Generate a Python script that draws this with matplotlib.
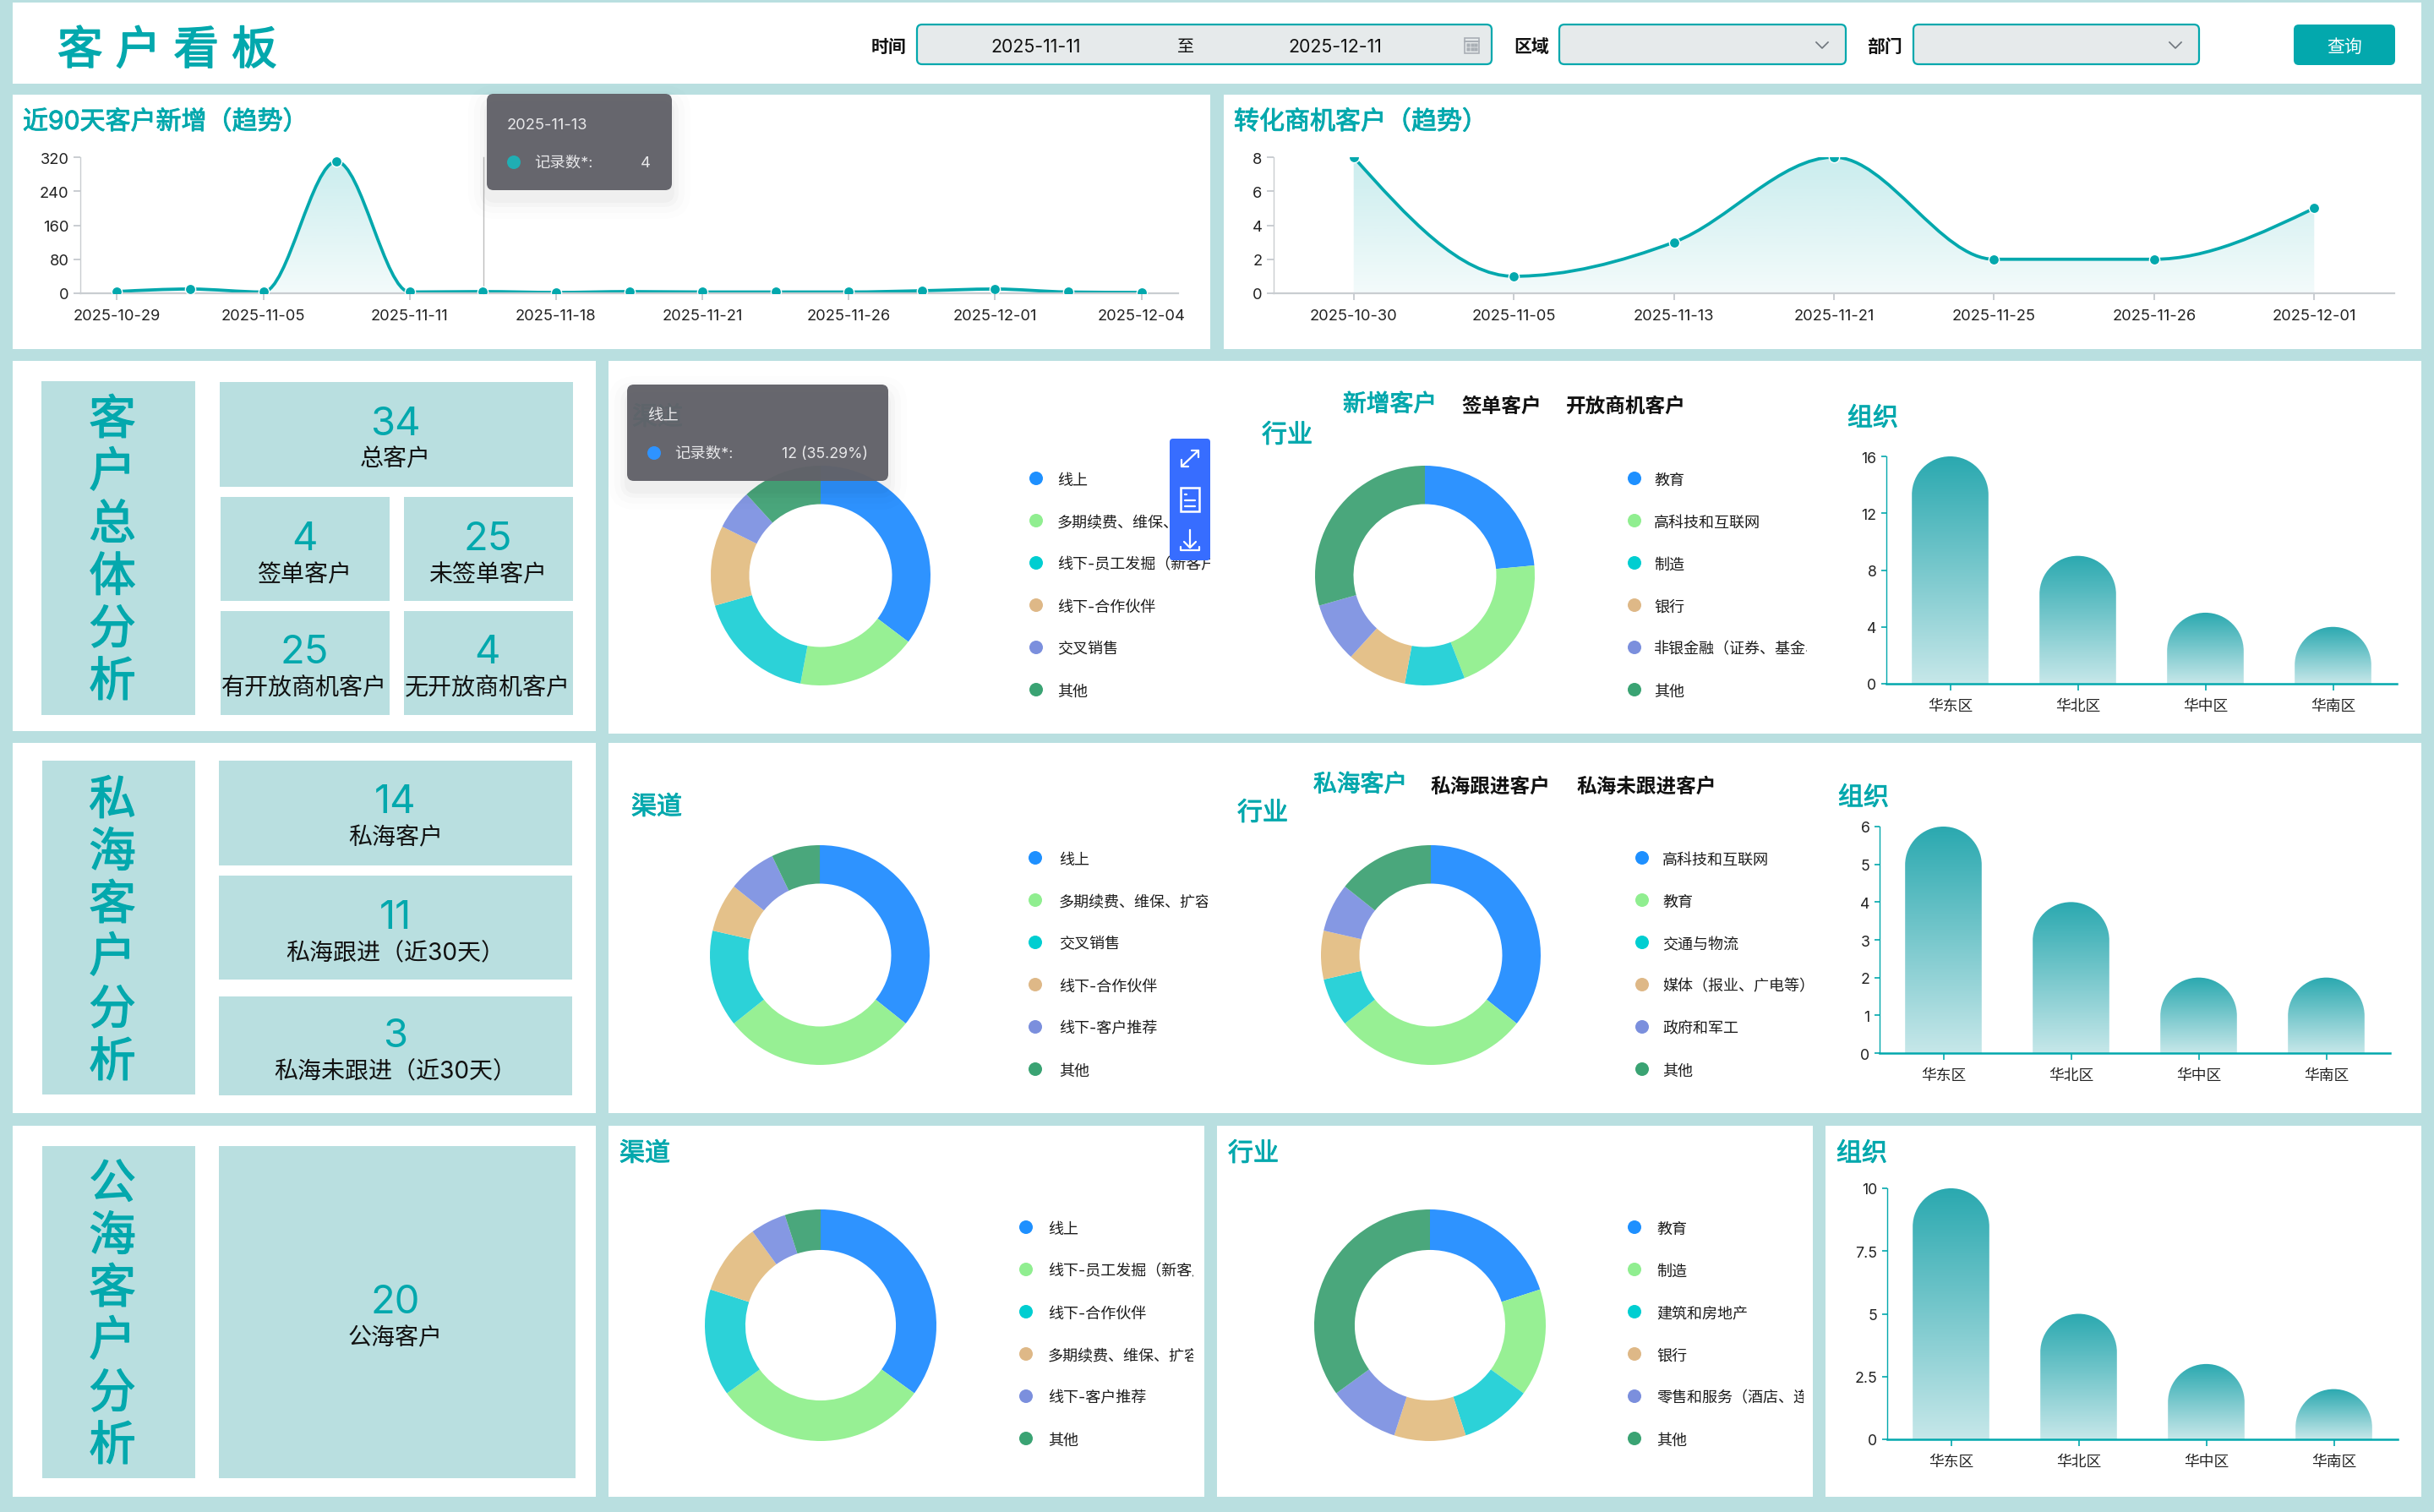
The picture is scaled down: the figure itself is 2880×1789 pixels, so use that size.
"""Customer dashboard screenshot rebuilt with matplotlib."""
import numpy as np
import matplotlib

matplotlib.use("Agg")
import matplotlib.patheffects as pe
import matplotlib.pyplot as plt
from matplotlib.colors import LinearSegmentedColormap, to_rgb
from matplotlib.patches import Circle, FancyBboxPatch, PathPatch, Rectangle
from matplotlib.path import Path
from matplotlib.transforms import Bbox, TransformedBbox

plt.rcParams["font.family"] = ["Inter", "Noto Sans CJK SC", "DejaVu Sans"]
plt.rcParams["axes.unicode_minus"] = False

# --- data -------------------------------------------------------------
new_dates = ["2025-10-29", "2025-11-05", "2025-11-11", "2025-11-18",
             "2025-11-21", "2025-11-26", "2025-12-01", "2025-12-04"]
new_values = [4, 10, 3, 310, 3, 4, 2, 4, 3, 3, 3, 6, 10, 3, 2]
new_yticks = [0, 80, 160, 240, 320]

conv_dates = ["2025-10-30", "2025-11-05", "2025-11-13", "2025-11-21",
              "2025-11-25", "2025-11-26", "2025-12-01"]
conv_values = [8, 1, 3, 8, 2, 2, 5]
conv_yticks = [0, 2, 4, 6, 8]

regions = ["华东区", "华北区", "华中区", "华南区"]

total_channel_names = ["线上", "多期续费、维保、扩容", "线下-员工发掘（新客户）",
                       "线下-合作伙伴", "交叉销售", "其他"]
total_channel_values = [12, 6, 6, 4, 2, 4]
total_industry_names = ["教育", "高科技和互联网", "制造", "银行",
                        "非银金融（证券、基金、保险）", "其他"]
total_industry_values = [8, 7, 3, 3, 3, 10]
total_region_values = [16, 9, 5, 4]
total_region_ticks = [0, 4, 8, 12, 16]

private_channel_names = ["线上", "多期续费、维保、扩容", "交叉销售",
                         "线下-合作伙伴", "线下-客户推荐", "其他"]
private_channel_values = [5, 4, 2, 1, 1, 1]
private_industry_names = ["高科技和互联网", "教育", "交通与物流",
                          "媒体（报业、广电等）", "政府和军工", "其他"]
private_industry_values = [5, 4, 1, 1, 1, 2]
private_region_values = [6, 4, 2, 2]
private_region_ticks = [0, 1, 2, 3, 4, 5, 6]

public_channel_names = ["线上", "线下-员工发掘（新客户）", "线下-合作伙伴",
                        "多期续费、维保、扩容", "线下-客户推荐", "其他"]
public_channel_values = [7, 6, 3, 2, 1, 1]
public_industry_names = ["教育", "制造", "建筑和房地产", "银行",
                         "零售和服务（酒店、连锁）", "其他"]
public_industry_values = [4, 3, 2, 2, 2, 7]
public_region_values = [10, 5, 3, 2]
public_region_ticks = [0, 2.5, 5, 7.5, 10]
public_region_labels = ["0", "2.5", "5", "7.5", "10"]

# --- style ------------------------------------------------------------
W, H = 2880, 1790
BG = "#B9DFE0"
TEAL = "#03A8AD"
AXIS_GREY = "#C9CDD1"
TIP = "#626269"
DOT_COLORS = ["#1E90FF", "#90EE90", "#00CED1", "#DEB887", "#7B8FDD", "#3AA373"]
SLICE_COLORS = ["#2E93FF", "#97F094", "#2CD2D8", "#E4C18A", "#8598E3", "#4AA77C"]

fig = plt.figure(figsize=(14.4, 8.95), dpi=200, facecolor=BG)

base = fig.add_axes([0, 0, 1, 1], zorder=0)
base.set_xlim(0, W)
base.set_ylim(H, 0)
base.axis("off")

overlay = fig.add_axes([0, 0, 1, 1], zorder=5)
overlay.set_xlim(0, W)
overlay.set_ylim(H, 0)
overlay.axis("off")
overlay.patch.set_alpha(0)


def px_axes(x0, y0, x1, y1):
    return fig.add_axes([x0 / W, 1 - y1 / H, (x1 - x0) / W, (y1 - y0) / H], zorder=1)


def panel(x0, y0, x1, y1, color="white"):
    base.add_patch(Rectangle((x0, y0), x1 - x0, y1 - y0, fc=color, ec="none"))


def label(x, y, s, size=6.5, color="#111111", ha="left", ax=base, heavy=0, **kw):
    # va=center sits a little high with these fonts, hence the nudge
    t = ax.text(x, y + 0.32 * size, s, fontsize=size, color=color, ha=ha, va="center", **kw)
    if heavy:
        # the CJK font has no medium weight, so thicken the regular one a little
        t.set_path_effects([pe.withStroke(linewidth=heavy, foreground=color)])
    return t


def title(x, y, s):
    label(x, y, s, size=10.8, color=TEAL, heavy=0.35)


def rounded(ax, x0, y0, x1, y1, fc, ec="none", r=8, lw=1.0, alpha=None, zorder=2):
    p = FancyBboxPatch((x0 + r, y0 + r), x1 - x0 - 2 * r, y1 - y0 - 2 * r,
                       boxstyle=f"round,pad={r},rounding_size={r}",
                       fc=fc, ec=ec, lw=lw, alpha=alpha, zorder=zorder)
    ax.add_patch(p)
    return p


def tooltip(x0, y0, x1, y1):
    # soft shadow, then the box
    for grow, a in [(22, 0.008), (15, 0.012), (8, 0.018), (3, 0.025)]:
        rounded(overlay, x0 - grow, y0 - grow + 12, x1 + grow, y1 + grow + 12,
                "black", r=10 + grow, alpha=a, zorder=6)
    rounded(overlay, x0, y0, x1, y1, TIP, r=8, alpha=0.97, zorder=7)


def monotone_path(xs, ys):
    """Bezier through the points with monotone tangents, like a smooth echarts line."""
    xs = np.asarray(xs, float)
    ys = np.asarray(ys, float)
    h = np.diff(xs)
    s = np.diff(ys) / h
    m = np.zeros_like(ys)
    for i in range(1, len(ys) - 1):
        p = (s[i - 1] * h[i] + s[i] * h[i - 1]) / (h[i - 1] + h[i])
        m[i] = (np.sign(s[i - 1]) + np.sign(s[i])) * min(abs(s[i - 1]), abs(s[i]), 0.5 * abs(p))
    m[0] = (3 * s[0] - m[1]) / 2
    m[-1] = (3 * s[-1] - m[-2]) / 2
    verts = [(xs[0], ys[0])]
    codes = [Path.MOVETO]
    for i in range(len(h)):
        d = h[i] / 3
        verts += [(xs[i] + d, ys[i] + m[i] * d),
                  (xs[i + 1] - d, ys[i + 1] - m[i + 1] * d),
                  (xs[i + 1], ys[i + 1])]
        codes += [Path.CURVE4] * 3
    return verts, codes


def trend(box, values, tick_pos, tick_labels, yticks):
    ax = px_axes(*box)
    xs = np.arange(len(values))
    verts, codes = monotone_path(xs, values)
    ymax = yticks[-1]

    area = Path(verts + [(xs[-1], 0), (xs[0], 0), (xs[0], values[0])],
                codes + [Path.LINETO, Path.LINETO, Path.CLOSEPOLY])
    clip = PathPatch(area, fc="none", ec="none", transform=ax.transData)
    ax.add_patch(clip)
    grad = np.zeros((64, 1, 4))
    grad[..., :3] = to_rgb(TEAL)
    grad[:, 0, 3] = np.linspace(0.21, 0.05, 64)
    im = ax.imshow(grad, extent=(-0.5, len(values) - 0.5, 0, ymax), aspect="auto",
                   origin="upper", zorder=1)
    im.set_clip_path(clip)

    ax.add_patch(PathPatch(Path(verts, codes), fc="none", ec=TEAL, lw=1.35, zorder=2))
    ax.plot(xs, values, ls="none", marker="o", ms=4.4, mfc=TEAL, mec="white", mew=0.5, zorder=3)

    ax.set_xlim(-0.5, len(values) - 0.5)
    ax.set_ylim(0, ymax)
    ax.set_xticks(tick_pos)
    ax.set_xticklabels(tick_labels)
    ax.set_yticks(yticks)
    ax.tick_params(axis="x", length=3, width=0.7, color=AXIS_GREY, labelsize=6.6, pad=3.5, labelcolor="#222222")
    ax.tick_params(axis="y", length=3, width=0.7, color=AXIS_GREY, labelsize=6.6, pad=1.8, labelcolor="#222222")
    ax.spines[["top", "right"]].set_visible(False)
    ax.spines["left"].set_color(AXIS_GREY)
    ax.spines["left"].set_linewidth(0.5)
    ax.spines["bottom"].set_color(AXIS_GREY)
    ax.spines["bottom"].set_linewidth(0.8)
    ax.patch.set_alpha(0)
    return ax


def donut(cx, cy, r, values):
    ax = px_axes(cx - r, cy - r, cx + r, cy + r)
    ax.pie(values, colors=SLICE_COLORS, startangle=90, counterclock=False, radius=1,
           wedgeprops={"width": 0.35, "linewidth": 0})
    ax.set_xlim(-1, 1)
    ax.set_ylim(-1, 1)
    ax.patch.set_alpha(0)
    return ax


def legend(dot_x, text_x, y0, names, clip_x):
    box = TransformedBbox(Bbox([[text_x - 4, y0 - 40], [clip_x, y0 + 300]]), base.transData)
    for i, name in enumerate(names):
        y = y0 + 50 * i
        base.add_patch(Circle((dot_x, y), 8, fc=DOT_COLORS[i], ec="none"))
        t = label(text_x, y, name, size=6.5, color="#1c1c1c", clip_on=True)
        t.set_clip_box(box)


def region_bars(box, values, ticks, tick_labels=None):
    ax = px_axes(*box)
    xs = np.arange(len(values))
    ymax = ticks[-1]
    bars = ax.bar(xs, values, width=0.6, color="none")
    height_px = box[3] - box[1]
    band_px = (box[2] - box[0]) / len(values)
    cmap = LinearSegmentedColormap.from_list("bar", ["#2BA9B0", "#C6E7E9"])
    for b in bars:
        x0, w, top = b.get_x(), b.get_width(), b.get_height()
        rx = w / 2
        ry = rx * band_px / (height_px / ymax)
        k = 0.5523
        verts = [(x0, 0), (x0, top - ry),
                 (x0, top - ry + k * ry), (x0 + rx - k * rx, top), (x0 + rx, top),
                 (x0 + rx + k * rx, top), (x0 + w, top - ry + k * ry), (x0 + w, top - ry),
                 (x0 + w, 0), (x0, 0)]
        codes = [Path.MOVETO, Path.LINETO] + [Path.CURVE4] * 6 + [Path.LINETO, Path.CLOSEPOLY]
        clip = PathPatch(Path(verts, codes), fc="none", ec="none", transform=ax.transData)
        ax.add_patch(clip)
        im = ax.imshow(np.linspace(0, 1, 128)[:, None], cmap=cmap, aspect="auto", origin="upper",
                       extent=(x0, x0 + w, 0, top), zorder=1)
        im.set_clip_path(clip)
    ax.set_xlim(-0.5, len(values) - 0.5)
    ax.set_ylim(0, ymax)
    ax.set_xticks(xs)
    ax.set_xticklabels(regions)
    ax.set_yticks(ticks)
    if tick_labels:
        ax.set_yticklabels(tick_labels)
    ax.tick_params(axis="x", length=3, width=0.6, color=TEAL, labelsize=6.4, pad=3.6, labelcolor="#222222")
    ax.tick_params(axis="y", length=2.3, width=0.6, color=TEAL, labelsize=6.4, pad=1.8, labelcolor="#222222")
    ax.spines[["top", "right"]].set_visible(False)
    ax.spines["left"].set_color(TEAL)
    ax.spines["left"].set_linewidth(0.5)
    ax.spines["bottom"].set_color(TEAL)
    ax.spines["bottom"].set_linewidth(0.9)
    ax.patch.set_alpha(0)
    return ax


def stacked(x, y0, s):
    for i, ch in enumerate(s):
        label(x, y0 + 62 * i, ch, size=20, color=TEAL, ha="center", heavy=0.5)


def kpi(x, y_num, y_text, num, text):
    label(x, y_num, num, size=17, color=TEAL, ha="center")
    label(x, y_text, text, size=10.1, color="#111111", ha="center")


# --- white panels -----------------------------------------------------
panel(15, 4, 2865, 100)
panel(15, 113, 1432, 414)
panel(1448, 113, 2865, 414)
panel(15, 428, 705, 866)
panel(720, 428, 2865, 869)
panel(15, 880, 705, 1318)
panel(720, 880, 2865, 1318)
panel(15, 1333, 705, 1772)
panel(720, 1333, 1425, 1772)
panel(1440, 1333, 2145, 1772)
panel(2160, 1333, 2865, 1772)

# --- header -----------------------------------------------------------
label(68, 56, "客 户 看 板", size=19.3, color=TEAL, heavy=0.6)
label(1052, 54, "时间", size=7.5, weight="bold", ha="center")
label(1812, 54, "区域", size=7.5, weight="bold", ha="center")
label(2230, 54, "部门", size=7.5, weight="bold", ha="center")
for x0, x1 in [(1085, 1765), (1845, 2184), (2264, 2602)]:
    rounded(base, x0, 30, x1, 77, "#E6EAEB", ec=TEAL, lw=0.8, r=6)
label(1226, 54, "2025-11-11", size=7.7, ha="center", zorder=3)
label(1403, 54, "至", size=7.2, ha="center", zorder=3)
label(1580, 54, "2025-12-11", size=7.7, ha="center", zorder=3)
base.add_patch(Rectangle((1733, 46), 17, 18, fc="#E6EAEB", ec="#A9AFB5", lw=0.6, zorder=3))
base.plot([1733, 1750], [50, 50], color="#A9AFB5", lw=0.7, zorder=3)
base.plot([1737, 1742, 1746, 1737, 1742, 1746], [54, 54, 54, 59, 59, 59], ls="none", marker="s",
          ms=0.5, color="#A9AFB5", zorder=3)
for cx in [2156, 2574]:
    base.plot([cx - 7, cx, cx + 7], [51, 58, 51], color="#6E757C", lw=0.6, zorder=3)
rounded(base, 2714, 30, 2834, 78, TEAL, r=6)
label(2774, 54, "查询", size=7.5, color="white", ha="center", zorder=3)

# --- trend row --------------------------------------------------------
title(27, 142, "近90天客户新增（趋势）")
title(1460, 142, "转化商机客户（趋势）")
trend((95, 187, 1394, 348), new_values, list(range(0, 15, 2)), new_dates, new_yticks)
trend((1507, 187, 2833, 348), conv_values, list(range(len(conv_values))), conv_dates, conv_yticks)
base.plot([572, 572], [187, 348], color="#BDBDBD", lw=0.5, zorder=3)

# --- left tiles -------------------------------------------------------
for tile in [(49, 452, 231, 847), (260, 453, 678, 577), (261, 589, 461, 712), (478, 589, 678, 712),
             (261, 724, 461, 847), (478, 724, 678, 847), (50, 901, 231, 1296), (259, 901, 677, 1025),
             (259, 1037, 677, 1160), (259, 1180, 677, 1297), (50, 1357, 231, 1750), (259, 1357, 681, 1750)]:
    panel(*tile, color=BG)

stacked(133, 493, "客户总体分析")
stacked(133, 943, "私海客户分析")
stacked(133, 1397, "公海客户分析")

kpi(468, 498, 541, "34", "总客户")
kpi(360, 634, 678, "4", "签单客户")
kpi(577, 634, 678, "25", "未签单客户")
kpi(360, 768, 812, "25", "有开放商机客户")
kpi(577, 768, 812, "4", "无开放商机客户")
kpi(468, 945, 989, "14", "私海客户")
kpi(468, 1082, 1125, "11", "私海跟进（近30天）")
kpi(468, 1222, 1265, "3", "私海未跟进（近30天）")
kpi(468, 1537, 1581, "20", "公海客户")

# --- total customers row ----------------------------------------------
title(748, 492, "渠道")
donut(971, 682, 130, total_channel_values)
legend(1226, 1251, 567, total_channel_names, 1432)
label(1589, 477, "新增客户", size=10, color=TEAL, heavy=0.35)
label(1729, 479, "签单客户", size=8.5, weight="bold")
label(1853, 479, "开放商机客户", size=8.5, weight="bold")
title(1493, 513, "行业")
donut(1686, 682, 130, total_industry_values)
legend(1934, 1957, 567, total_industry_names, 2138)
title(2186, 493, "组织")
region_bars((2232, 541, 2836, 810), total_region_values, total_region_ticks)

# --- private customers row --------------------------------------------
title(747, 953, "渠道")
donut(970, 1131, 130, private_channel_values)
legend(1225, 1253, 1016, private_channel_names, 1429)
label(1554, 927, "私海客户", size=10, color=TEAL, heavy=0.35)
label(1693, 929, "私海跟进客户", size=8.5, weight="bold")
label(1866, 929, "私海未跟进客户", size=8.5, weight="bold")
title(1464, 960, "行业")
donut(1693, 1131, 130, private_industry_values)
legend(1943, 1967, 1016, private_industry_names, 2140)
title(2175, 942, "组织")
region_bars((2224, 979, 2828, 1247), private_region_values, private_region_ticks)

# --- public customers row ---------------------------------------------
title(733, 1363, "渠道")
donut(971, 1569, 137, public_channel_values)
legend(1214, 1240, 1453, public_channel_names, 1412)
title(1453, 1363, "行业")
donut(1692, 1569, 137, public_industry_values)
legend(1934, 1960, 1453, public_industry_names, 2134)
title(2173, 1363, "组织")
region_bars((2233, 1407, 2837, 1704), public_region_values, public_region_ticks, public_region_labels)

# --- floating tooltips and toolbar ------------------------------------
tooltip(576, 112, 795, 226)
label(600, 146, "2025-11-13", size=6.6, color="#E8E8EA", ax=overlay, zorder=8)
overlay.add_patch(Circle((608, 193), 8, fc="#20AEB3", ec="none", zorder=8))
label(632, 191, "记录数*:", size=6.6, color="#E8E8EA", ax=overlay, zorder=8)
label(770, 191, "4", size=6.6, color="#E8E8EA", ha="right", ax=overlay, zorder=8)

tooltip(742, 456, 1051, 570)
label(766, 490, "线上", size=6.6, color="#E8E8EA", ax=overlay, zorder=8)
overlay.add_patch(Circle((774, 537), 8, fc="#2E93FF", ec="none", zorder=8))
label(798, 535, "记录数*:", size=6.6, color="#E8E8EA", ax=overlay, zorder=8)
label(1027, 535, "12 (35.29%)", size=6.4, color="#E8E8EA", ha="right", ax=overlay, zorder=8)

rounded(overlay, 1384, 520, 1432, 664, "#376DFF", r=4, zorder=7)
ic = {"color": "white", "lw": 0.8, "zorder": 8, "solid_capstyle": "round"}
# expand arrows
overlay.plot([1398, 1418], [553, 534], **ic)
overlay.plot([1410, 1418, 1418], [534, 534, 542], **ic)
overlay.plot([1398, 1398, 1406], [545, 553, 553], **ic)
# document
overlay.add_patch(Rectangle((1397, 578), 22, 28, fc="none", ec="white", lw=0.9, zorder=8))
for yy, x1 in [(586, 1404), (593, 1414), (600, 1414)]:
    overlay.plot([1402, x1], [yy, yy], **ic)
# download
overlay.plot([1408, 1408], [628, 648], **ic)
overlay.plot([1401, 1408, 1415], [642, 649, 642], **ic)
overlay.plot([1397, 1397, 1419, 1419], [648, 652, 652, 648], **ic)

fig.savefig("out.png", dpi=200, facecolor=BG)
